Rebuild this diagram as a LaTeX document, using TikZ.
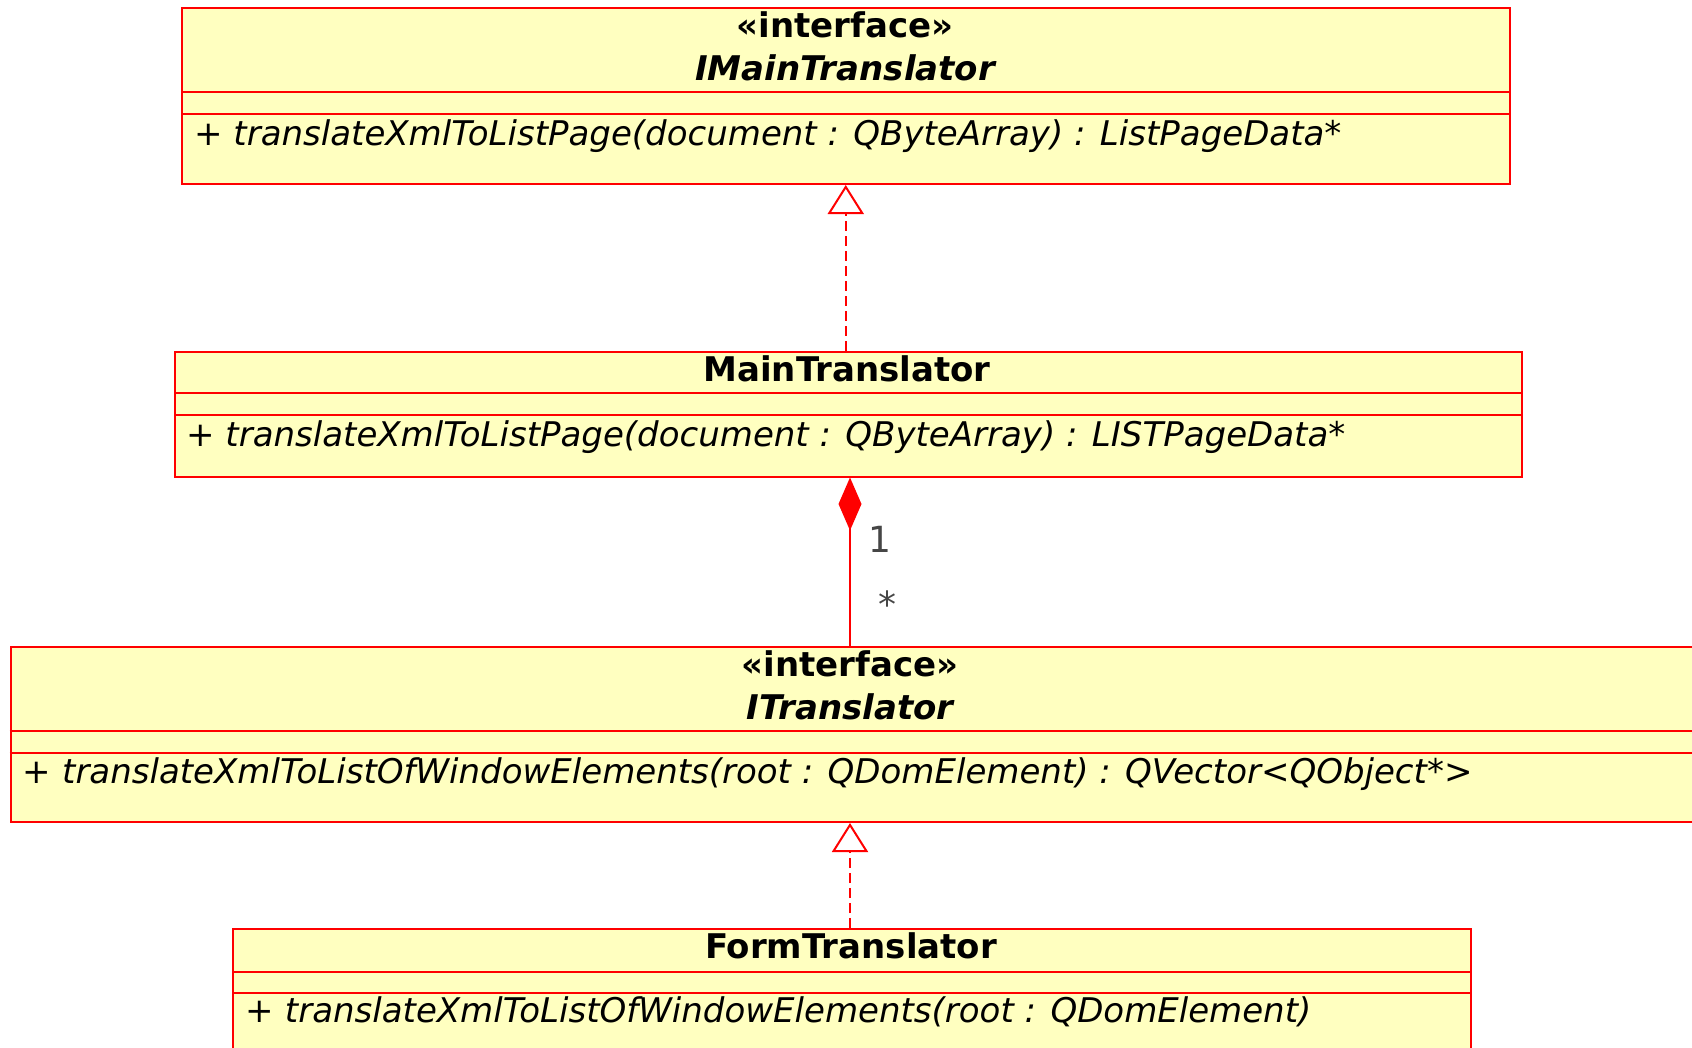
\documentclass[tikz,border=0pt]{standalone}
\usepackage{fontspec}
\setmainfont{DejaVu Sans}
\usetikzlibrary{arrows.meta}
\definecolor{umlfill}{RGB}{255,255,192}
\definecolor{umlline}{RGB}{255,0,0}
\definecolor{multcol}{RGB}{70,70,70}
\tikzset{
  umlbox/.style={draw=umlline, fill=umlfill, line width=2pt, rectangle, inner sep=0pt, anchor=north west},
  sepline/.style={draw=umlline, line width=2pt},
  txt/.style={anchor=base, inner sep=0pt, font=\fontsize{34}{40}\selectfont},
  optxt/.style={anchor=base west, inner sep=0pt, font=\fontsize{34}{40}\selectfont},
  multtxt/.style={anchor=base, inner sep=0pt, text=multcol, font=\fontsize{36}{40}\selectfont},
  realize/.style={draw=umlline, line width=2pt, dash pattern=on 10pt off 5pt,
    -{Triangle[length=29pt, width=36pt, fill=white, line width=2pt]}},
  compose/.style={draw=umlline, line width=2pt,
    -{Diamond[length=53pt, width=23pt, fill=umlline]}},
}
\begin{document}
\begin{tikzpicture}[x=1pt, y=-1pt]
\useasboundingbox (0,0) rectangle (1692,1047);
\clip (0,0) rectangle (1692,1047);
\fill[white] (0,0) rectangle (1692,1047);

% IMainTranslator
\node[umlbox, minimum width=1327.5pt, minimum height=176pt] (imt) at (181,7) {};
\draw[sepline] ([yshift=-84.5pt]imt.north west) -- ([yshift=-84.5pt]imt.north east);
\draw[sepline] ([yshift=-106.5pt]imt.north west) -- ([yshift=-106.5pt]imt.north east);
\node[txt] (imtst) at (845,37) {\bfseries «interface»};
\node[txt] (imtname) at (845,80) {\bfseries\itshape IMainTranslator};
\node[optxt] (imtop) at (194,145.5) {+ \itshape translateXmlToListPage(document : QByteArray) : ListPageData*};

% MainTranslator
\node[umlbox, minimum width=1346.5pt, minimum height=125pt] (mt) at (174,350.5) {};
\draw[sepline] ([yshift=-42.5pt]mt.north west) -- ([yshift=-42.5pt]mt.north east);
\draw[sepline] ([yshift=-64pt]mt.north west) -- ([yshift=-64pt]mt.north east);
\node[txt] (mtname) at (847,381) {\bfseries MainTranslator};
\node[optxt] (mtop) at (186,446.5) {+ \itshape translateXmlToListPage(document : QByteArray) : LISTPageData*};

% ITranslator
\node[umlbox, minimum width=1700pt, minimum height=175pt] (it) at (9.7,646) {};
\draw[sepline] ([yshift=-85.4pt]it.north west) -- ([yshift=-85.4pt]it.north east);
\draw[sepline] ([yshift=-107.4pt]it.north west) -- ([yshift=-107.4pt]it.north east);
\node[txt] (itst) at (850,676) {\bfseries «interface»};
\node[txt] (itname) at (850,719.6) {\bfseries\itshape ITranslator};
\node[optxt] (itop) at (22.7,783) {+ \itshape translateXmlToListOfWindowElements(root : QDomElement) : QVector<QObject*>};

% FormTranslator
\node[umlbox, minimum width=1238.4pt, minimum height=140pt] (ft) at (232,928) {};
\draw[sepline] ([yshift=-43.5pt]ft.north west) -- ([yshift=-43.5pt]ft.north east);
\draw[sepline] ([yshift=-65.2pt]ft.north west) -- ([yshift=-65.2pt]ft.north east);
\node[txt] (ftname) at (851,958.8) {\bfseries FormTranslator};
\node[optxt] (ftop) at (245.5,1022) {+ \itshape translateXmlToListOfWindowElements(root : QDomElement)};

% connectors
\coordinate (cx) at (850,0);
\draw[realize] (mt.north -| imt.south) -- (imt.south);
\draw[compose] (it.north -| cx) -- (mt.south -| cx);
\draw[realize] (ft.north -| cx) -- (it.south -| cx);

% multiplicities
\node[multtxt] (m1) at (880,552) {1};
\node[multtxt] (m2) at (887.5,617) {*};
\end{tikzpicture}
\end{document}
